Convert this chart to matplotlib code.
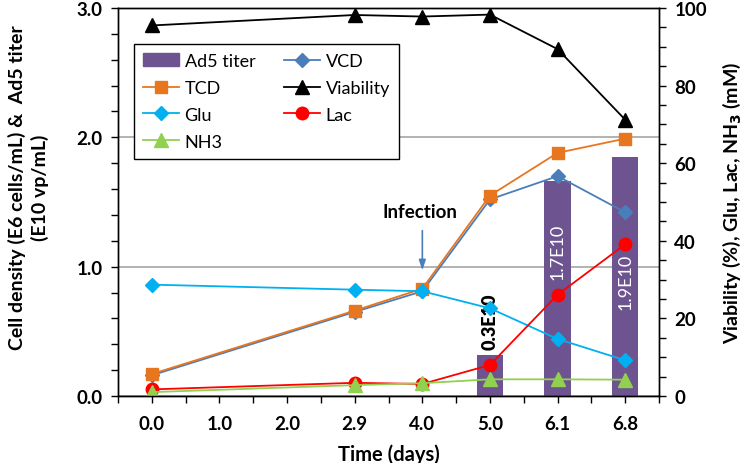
import numpy as np
import matplotlib
matplotlib.use("Agg")
import matplotlib.pyplot as plt
from matplotlib.ticker import MultipleLocator
from matplotlib.patches import Patch
from matplotlib.lines import Line2D

plt.rcParams['font.family'] = ['Lato', 'DejaVu Sans']

# category axis (days)
tick_labels = ['0.0', '1.0', '2.0', '2.9', '4.0', '5.0', '6.1', '6.8']
sample_days = ['0.0', '2.9', '4.0', '5.0', '6.1', '6.8']

# left axis: E6 cells/mL
tcd = [0.17, 0.66, 0.83, 1.55, 1.88, 1.99]
vcd = [0.16, 0.65, 0.81, 1.52, 1.70, 1.42]

# right axis: % and mM
viability = [95.5, 98.2, 97.8, 98.3, 89.4, 71.2]
glu = [28.7, 27.4, 27.0, 22.6, 14.7, 9.2]
lac = [1.7, 3.4, 3.1, 8.0, 26.1, 39.1]
nh3 = [1.0, 2.8, 3.3, 4.3, 4.3, 4.2]

# Ad5 titer (E10 vp/mL)
titer_days = ['5.0', '6.1', '6.8']
titer = [0.32, 1.66, 1.85]
titer_labels = ['0.3E10', '1.7E10', '1.9E10']
titer_label_y = [0.58, 1.12, 0.89]

c_bar = '#6D5490'
c_vcd = '#4A7EBB'
c_tcd = '#E8761E'
c_glu = '#00B0F0'
c_lac = '#FF0000'
c_nh3 = '#92D050'

pos = {d: i for i, d in enumerate(tick_labels)}
xs = [pos[d] for d in sample_days]
xb = [pos[d] for d in titer_days]

fig = plt.figure(figsize=(7.44, 4.64), dpi=100)
ax = fig.add_axes([0.1586, 0.1444, 0.7272, 0.8362])
ax2 = ax.twinx()

ax.bar(xb, titer, width=0.39, color=c_bar, zorder=2)
ax.plot(xs, vcd, color=c_vcd, lw=1.3, marker='D', ms=7.5, zorder=3)
ax.plot(xs, tcd, color=c_tcd, lw=1.3, marker='s', ms=8, zorder=3)

ax2.plot(xs, viability, color='black', lw=1.3, marker='^', ms=9.5)
ax2.plot(xs, glu, color=c_glu, lw=1.3, marker='D', ms=7.5)
ax2.plot(xs, lac, color=c_lac, lw=1.3, marker='o', ms=9)
ax2.plot(xs, nh3, color=c_nh3, lw=1.3, marker='^', ms=9.5)

for x, y, s in zip(xb, titer_label_y, titer_labels):
    if s == '0.3E10':
        ax.text(x, y, s, rotation=90, ha='center', va='center', fontsize=13,
                fontweight='heavy', color='black', zorder=4)
    else:
        ax.text(x, y, s, rotation=90, ha='center', va='center', fontsize=13,
                color='white', zorder=4)

ax.annotate('', xy=(pos['4.0'], 0.95), xytext=(pos['4.0'], 1.3),
            arrowprops=dict(arrowstyle='-|>,head_length=0.6,head_width=0.2',
                            color=c_vcd, lw=1.2), zorder=4)
ax.text(pos['4.0'] - 0.03, 1.43, 'Infection', ha='center', va='center',
        fontsize=13.5, fontweight='bold', zorder=4)

ax.set_xlim(-0.5, len(tick_labels) - 0.5)
ax.set_ylim(0, 3)
ax2.set_ylim(0, 100)

ax.set_xticks(range(len(tick_labels)))
ax.set_xticklabels(tick_labels)
ax.xaxis.set_minor_locator(MultipleLocator(1, offset=0.5))
ax.yaxis.set_major_locator(MultipleLocator(1))
ax.yaxis.set_minor_locator(MultipleLocator(0.2))
ax.yaxis.set_major_formatter(matplotlib.ticker.FormatStrFormatter('%.1f'))
ax2.yaxis.set_major_locator(MultipleLocator(20))
ax2.yaxis.set_minor_locator(MultipleLocator(5))

for a in (ax, ax2):
    a.tick_params(which='both', direction='out', length=5, width=1,
                  labelsize=13.5)
    for lab in a.get_xticklabels() + a.get_yticklabels():
        lab.set_fontweight('bold')
    for sp in a.spines.values():
        sp.set_linewidth(1)
ax.tick_params(axis='x', pad=9)
ax.tick_params(axis='y', pad=6)
ax2.tick_params(axis='y', pad=6)

ax.grid(axis='y', which='major', color='#A6A6A6', lw=1.2, zorder=0)
ax.set_axisbelow(True)

ax.set_xlabel('Time (days)', fontsize=14.5, fontweight='bold', labelpad=8)
ax.set_ylabel('Cell density (E6 cells/mL) &  Ad5 titer\n(E10 vp/mL)',
              fontsize=14, fontweight='bold', linespacing=1.35)
ax.yaxis.set_label_coords(-0.127, 0.54)
ax2.set_ylabel('Viability (%), Glu, Lac, NH$_\\mathbf{3}$ (mM)',
               fontsize=14, fontweight='bold', labelpad=10)

handles = [
    Patch(color=c_bar),
    Line2D([], [], color=c_tcd, marker='s', ms=8, lw=1.3),
    Line2D([], [], color=c_glu, marker='D', ms=7.5, lw=1.3),
    Line2D([], [], color=c_nh3, marker='^', ms=9.5, lw=1.3),
    Line2D([], [], color=c_vcd, marker='D', ms=7.5, lw=1.3),
    Line2D([], [], color='black', marker='^', ms=9.5, lw=1.3),
    Line2D([], [], color=c_lac, marker='o', ms=9, lw=1.3),
]
labels = ['Ad5 titer', 'TCD', 'Glu', 'NH3', 'VCD', 'Viability', 'Lac']
leg = ax2.legend(handles, labels, ncol=2, loc='upper left',
                 bbox_to_anchor=(0.0296, 0.907), borderaxespad=0,
                 fontsize=13, frameon=True, fancybox=False, framealpha=1,
                 edgecolor='black', handlelength=2.0, labelspacing=0.6,
                 columnspacing=1.6, handletextpad=0.3, borderpad=0.5)
leg.get_frame().set_linewidth(1)

fig.savefig('out.png', dpi=100)
